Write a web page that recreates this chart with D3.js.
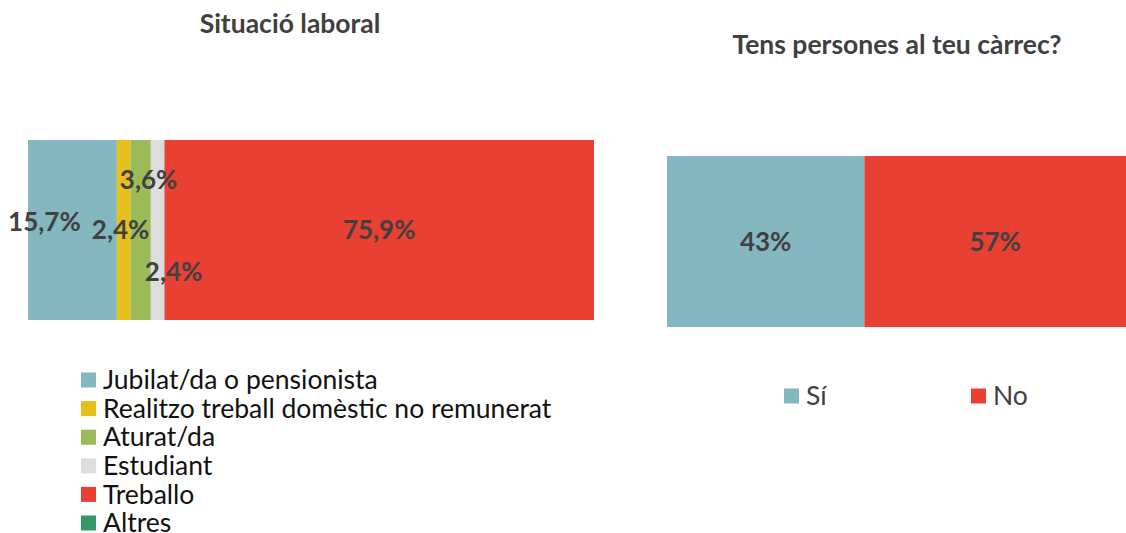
<!DOCTYPE html>
<html>
<head>
<meta charset="utf-8">
<title>Situació laboral</title>
<script src="https://d3js.org/d3.v7.min.js"></script>
<style>
  body { margin: 0; background: #fff; }
  svg text { font-family: Lato, "Open Sans", sans-serif; }
</style>
</head>
<body>
<div id="chart"></div>
<script>
// ---- data ----
const laboralCats = ["Jubilat/da o pensionista", "Realitzo treball domèstic no remunerat", "Aturat/da", "Estudiant", "Treballo", "Altres"];
const laboralVals = [15.7, 2.4, 3.6, 2.4, 75.9, 0];
const carrecCats = ["Sí", "No"];
const carrecVals = [43, 57];

// ---- styling / layout ----
const laboralColors = ["#85b7c0", "#e5c01a", "#9bbb59", "#dddddd", "#e84033", "#339966"];
const carrecColors = ["#85b7c0", "#e84033"];
// hand-moved label offsets (dx, dy) like in the original
const laboralNudge = [[-28, -8], [-3, 0], [8, -50], [16, 42], [0, 0], [0, 0]];

const W = 1126, H = 533;
const svg = d3.select("#chart").append("svg")
  .attr("width", W).attr("height", H);

function fmt(v) { return String(v).replace(".", ",") + "%"; }

function drawBar(cats, vals, colors, opt) {
  const g = svg.append("g");
  const x = d3.scaleLinear().domain([0, d3.sum(vals)]).range([opt.x0, opt.x1]);
  const y = d3.scaleBand().domain([0]).range([opt.y0, opt.y1]);
  let acc = 0;
  const segs = vals.map((v, i) => { const s = {i: i, v: v, start: acc}; acc += v; return s; });

  g.selectAll("rect").data(segs.filter(d => d.v > 0)).join("rect")
    .attr("x", d => x(d.start))
    .attr("width", d => x(d.start + d.v) - x(d.start))
    .attr("y", y(0))
    .attr("height", y.bandwidth())
    .attr("fill", d => colors[d.i]);

  g.selectAll("text.lbl").data(segs.filter(d => d.v > 0)).join("text")
    .attr("class", "lbl")
    .attr("x", d => (x(d.start) + x(d.start + d.v)) / 2 + (opt.nudge ? opt.nudge[d.i][0] : 0))
    .attr("y", d => y(0) + y.bandwidth() / 2 + (opt.nudge ? opt.nudge[d.i][1] : 0))
    .attr("dy", "0.35em")
    .attr("text-anchor", "middle")
    .attr("font-size", 26).attr("font-weight", "bold").attr("fill", "#404040")
    .text(d => fmt(d.v));

  svg.append("text")
    .attr("x", opt.tx).attr("y", opt.ty)
    .attr("text-anchor", "middle")
    .attr("font-size", 26.5).attr("font-weight", "bold").attr("fill", "#404040")
    .text(opt.title);
}

drawBar(laboralCats, laboralVals, laboralColors,
  {x0: 28, x1: 594, y0: 140, y1: 320, tx: 290, ty: 33, title: "Situació laboral", nudge: laboralNudge});
drawBar(carrecCats, carrecVals, carrecColors,
  {x0: 667, x1: 1126, y0: 156, y1: 327, tx: 897, ty: 54, title: "Tens persones al teu càrrec?"});

// left legend, vertical
const legL = svg.append("g").selectAll("g").data(laboralCats).join("g")
  .attr("transform", (d, i) => `translate(81,${380 + i * 28.6})`);
legL.append("rect").attr("x", 0).attr("y", -7.5).attr("width", 15).attr("height", 15)
  .attr("fill", (d, i) => laboralColors[i]);
legL.append("text").attr("x", 22).attr("dy", "0.35em")
  .attr("font-size", 26.5).attr("fill", "#111").text(d => d);

// right legend, horizontal
const legXs = [784, 971];
const legR = svg.append("g").selectAll("g").data(carrecCats).join("g")
  .attr("transform", (d, i) => `translate(${legXs[i]},396)`);
legR.append("rect").attr("x", 0).attr("y", -7.5).attr("width", 15).attr("height", 15)
  .attr("fill", (d, i) => carrecColors[i]);
legR.append("text").attr("x", 22).attr("dy", "0.35em")
  .attr("font-size", 26.5).attr("fill", "#404040").text(d => d);
</script>
</body>
</html>
